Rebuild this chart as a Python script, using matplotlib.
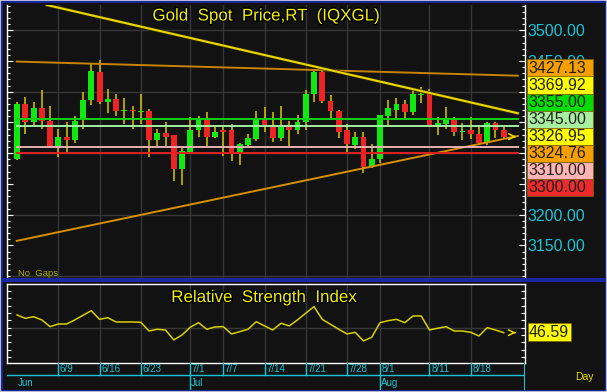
import numpy as np
import pandas as pd
import matplotlib
matplotlib.use("Agg")
import matplotlib.pyplot as plt
from matplotlib.patches import Rectangle
import matplotlib.patheffects as pe

plt.rcParams['font.family'] = ['Liberation Sans', 'DejaVu Sans']

# ---- data ----
dates = pd.bdate_range("2025-06-02", "2025-08-22")   # one candle per weekday

opens = [3290, 3380, 3351, 3373, 3353, 3311, 3327, 3322, 3354, 3386,
         3432, 3384, 3388, 3368, 3371, 3367, 3369, 3322, 3333, 3329,
         3274, 3302, 3337, 3357, 3326, 3337, 3337, 3301, 3313, 3323,
         3357, 3345, 3324, 3346, 3337, 3350, 3396, 3432, 3385, 3369,
         3337, 3313, 3327, 3277, 3290, 3361, 3370, 3380, 3367, 3395,
         3397, 3342, 3348, 3357, 3334, 3337, 3332, 3316, 3349, 3338]
highs = [3383, 3392, 3384, 3403, 3377, 3339, 3350, 3361, 3399, 3445,
         3452, 3405, 3396, 3389, 3376, 3396, 3372, 3339, 3351, 3330,
         3309, 3359, 3361, 3367, 3343, 3343, 3347, 3316, 3331, 3369,
         3375, 3367, 3376, 3352, 3362, 3403, 3435, 3438, 3394, 3370,
         3347, 3335, 3335, 3315, 3362, 3387, 3389, 3387, 3403, 3408,
         3405, 3359, 3375, 3359, 3349, 3359, 3346, 3351, 3351, 3342]
lows = [3289, 3331, 3344, 3339, 3308, 3294, 3301, 3316, 3339, 3379,
        3380, 3365, 3361, 3347, 3339, 3347, 3294, 3311, 3311, 3255,
        3248, 3301, 3327, 3311, 3324, 3296, 3287, 3281, 3312, 3320,
        3335, 3319, 3320, 3311, 3331, 3337, 3383, 3381, 3357, 3325,
        3302, 3307, 3267, 3276, 3284, 3345, 3354, 3357, 3362, 3381,
        3342, 3330, 3339, 3328, 3322, 3323, 3314, 3313, 3325, 3325]
closes = [3380, 3351, 3373, 3353, 3310, 3327, 3322, 3353, 3387, 3434,
          3384, 3388, 3368, 3371, 3368, 3369, 3322, 3333, 3327, 3274,
          3303, 3337, 3357, 3326, 3335, 3335, 3300, 3315, 3324, 3354,
          3342, 3324, 3346, 3337, 3350, 3396, 3432, 3385, 3368, 3335,
          3315, 3327, 3277, 3291, 3362, 3373, 3380, 3367, 3396, 3397,
          3342, 3349, 3357, 3334, 3336, 3331, 3316, 3349, 3338, 3326.95]

rsi = [58.7, 56.4, 57.5, 55.3, 50.7, 52.5, 52.5, 55.3, 58.5, 61.6,
       55.7, 56.8, 53.9, 53.9, 53.9, 53.7, 47.7, 48.9, 48.4, 41.6,
       45.0, 50.3, 53.4, 48.9, 50.5, 50.7, 45.7, 47.3, 48.9, 54.1,
       51.2, 48.4, 53.0, 51.2, 55.3, 59.9, 64.4, 55.7, 52.3, 48.9,
       45.7, 46.8, 40.9, 43.4, 53.4, 54.8, 55.7, 53.4, 58.0, 58.0,
       48.4, 49.6, 50.7, 47.7, 47.7, 46.8, 44.3, 50.0, 48.4, 46.59]

# drawn lines: (bar index, price) end points
trend_down = [(3.6, 3541), (60.7, 3365)]
trend_up = [(-0.04, 3157.4), (60.7, 3328)]
resist = [(-0.04, 3449), (60.7, 3426)]
hlines = [3355.0, 3345.0, 3310.0, 3300.0]

# right-hand price flags
flag_vals = [3427.13, 3369.92, 3355.00, 3345.00, 3326.95, 3324.76, 3310.00, 3300.00]
flag_cols = ['#f5a000', '#ffff00', '#00dd00', '#a8f0a0', '#ffff00', '#f5a000', '#ffb4b4', '#ee2a2a']

price_ticks = [3150, 3200, 3250, 3300, 3350, 3400, 3450, 3500]
shown_ticks = [3150, 3200, 3450, 3500]     # the rest sit under the flags

tick_days = ['6/9', '6/16', '6/23', '7/1', '7/7', '7/14', '7/21', '7/28', '8/1', '8/11', '8/18']
months = ['Jun', 'Jul', 'Aug']

# ---- layout helpers (pixels from top-left) ----
W, H = 607, 392
def fx(px): return px / W
def fy(py): return 1 - py / H

bg = '#121212'
cyan = '#18c4d4'
grid = '#363636'
yel = '#f0f000'

x = np.arange(len(dates))
lbl = [f"{d.month}/{d.day}" for d in dates]
tick_pos = [lbl.index(t) for t in tick_days]
mon_pos = [next(i for i, d in enumerate(dates) if d.strftime('%b') == m) for m in months]
xl = (-1.22, 61.58)

fig = plt.figure(figsize=(W / 100, H / 100), dpi=100, facecolor=bg)

# ---- price panel ----
ax = fig.add_axes([fx(7), fy(278), (525 - 7) / W, (278 - 5) / H], facecolor=bg)
ax.set_xlim(xl)
ax.set_ylim(3097, 3541)
for p in range(3100, 3600, 100):
    ax.axhline(p, color=grid, lw=1, zorder=0)
for t in tick_pos:
    ax.axvline(t, color=grid, lw=1, zorder=0)

o = np.array(opens); c = np.array(closes)
up = c >= o
ax.vlines(x, lows, highs, color='#d8c800', lw=1.1, zorder=2)
body = np.maximum(np.abs(c - o), 1.6)
ax.bar(x, body, bottom=np.minimum(o, c), width=0.72,
       color=np.where(up, '#10e810', '#ec2424'), lw=0, zorder=3)

ax.plot(*zip(*resist), color='#c88400', lw=1.4, zorder=4)
ax.plot(*zip(*trend_down), color='#e8d800', lw=1.5, zorder=4,
        path_effects=[pe.Stroke(linewidth=2.4, foreground='#3a3000'), pe.Normal()])
ax.plot(*zip(*trend_up), color='#d89000', lw=1.4, zorder=4)
for v, col in zip(hlines, ['#10d010', '#a0eea0', '#e8b0b0', '#e02020']):
    ax.plot([resist[0][0], resist[1][0]], [v, v], color=col, lw=1.4, zorder=5)
ax.annotate('', xy=(60.85, closes[-1]), xytext=(59.9, closes[-1]),
            arrowprops=dict(arrowstyle='->', color='#e8d800', lw=1.2), zorder=6)

ax.set_yticks(price_ticks)
ax.set_yticklabels([f'{v:.2f}' if v in shown_ticks else '' for v in price_ticks])
ax.set_yticks(range(3100, 3550, 10), minor=True)
ax.tick_params(axis='y', which='both', left=True, right=True, labelleft=False,
               labelright=True, direction='in', color='white', width=0.8,
               labelcolor=cyan, labelsize=11.5, pad=2)
ax.tick_params(axis='y', which='major', length=4.5)
ax.tick_params(axis='y', which='minor', length=2.3)
ax.set_xticks([])
for s in ['top', 'bottom']:
    ax.spines[s].set_visible(False)
for s in ['left', 'right']:
    ax.spines[s].set_color('white')
    ax.spines[s].set_linewidth(1)

fig.text(fx(266), fy(16), 'Gold  Spot  Price,RT  (IQXGL)', color=yel, fontsize=12.2,
         ha='center', va='center',
         path_effects=[pe.withStroke(linewidth=2, foreground='black')])
fig.text(fx(18), fy(273.5), 'No  Gaps', color='#a8b000', fontsize=6.8, va='center')

# stacked price flags
for k, (v, col) in enumerate(zip(flag_vals, flag_cols)):
    top = 59.3 + k * 17.1
    fig.patches.append(Rectangle((fx(527), fy(top + 17.1)), 66 / W, 17.1 / H,
                                 transform=fig.transFigure, facecolor=col,
                                 edgecolor='#806000', lw=0.5, zorder=5))
    fig.text(fx(528), fy(top + 8.9), f'{v:.2f}', color='#202020', fontsize=11.5,
             va='center', ha='left', zorder=6)

# ---- RSI panel ----
ax2 = fig.add_axes([fx(7), fy(362.7), (525 - 7) / W, (362.7 - 284) / H], facecolor=bg)
ax2.set_xlim(xl)
ax2.set_ylim(26.0, 79.9)
ax2.axhline(50, color=grid, lw=1, zorder=0)
for t in tick_pos:
    ax2.axvline(t, color=grid, lw=1, zorder=0)
ax2.plot(x, rsi, color='#d8d000', lw=1.1, zorder=3)
ax2.annotate('', xy=(60.8, rsi[-1]), xytext=(60.0, rsi[-1]),
             arrowprops=dict(arrowstyle='->', color='#e8d800', lw=1.1), zorder=6)
ax2.set_yticks(range(30, 80, 5))
ax2.set_yticklabels(['50' if v == 50 else '' for v in range(30, 80, 5)])
ax2.tick_params(axis='y', left=True, right=True, labelleft=False, labelright=True,
                direction='in', color='white', length=3, width=0.8,
                labelcolor='#c0c0c0', labelsize=11, pad=2)
ax2.set_xticks([])
for s in ax2.spines.values():
    s.set_color('white')
    s.set_linewidth(1)
fig.text(fx(264), fy(297.5), 'Relative  Strength  Index', color=yel, fontsize=12.2,
         ha='center', va='center',
         path_effects=[pe.withStroke(linewidth=2, foreground='black')])
fig.patches.append(Rectangle((fx(527.7), fy(341)), 43 / W, 17.7 / H,
                             transform=fig.transFigure, facecolor='#ffff00',
                             edgecolor='#806000', lw=0.5, zorder=5))
fig.text(fx(529), fy(332.5), f'{rsi[-1]:.2f}', color='#202020', fontsize=11.5,
         va='center', ha='left', zorder=6)

# ---- date axis ----
ax3 = fig.add_axes([fx(7), fy(390), (525 - 7) / W, (390 - 362.7) / H], facecolor=bg)
ax3.set_xlim(xl)
ax3.set_ylim(0, 1)
ax3.axis('off')
ax3.axhline(0.55, color=cyan, lw=1)
ax3.axvline(xl[1], color=cyan, lw=1.5)
for t, s in zip(tick_pos, tick_days):
    ax3.plot([t, t], [0.55, 1], color=cyan, lw=1)
    ax3.text(t + 0.2, 0.77, s, color=cyan, fontsize=7, va='center', ha='left')
for t, m in zip(mon_pos, months):
    if t > 0:
        ax3.plot([t, t], [0, 0.55], color=cyan, lw=1)
    ax3.text(t + 0.1, 0.27, m, color=cyan, fontsize=7, va='center', ha='left')
fig.text(fx(575), fy(377), 'Day', color='#e8e000', fontsize=7.5, va='center')

# ---- window frame ----
fig.patches.append(Rectangle((0, fy(282)), 1, 4 / H, transform=fig.transFigure,
                             facecolor='#1828a0', lw=0, zorder=4))
fig.patches.append(Rectangle((0, 0), 1, 1, transform=fig.transFigure, fill=False,
                             edgecolor='#1828a0', lw=3.5, zorder=4))
fig.patches.append(Rectangle((0, 0), 1, 1, transform=fig.transFigure, fill=False,
                             edgecolor='#d8d8d8', lw=1.2, zorder=4))

fig.savefig('out.png', dpi=100, facecolor=bg)
